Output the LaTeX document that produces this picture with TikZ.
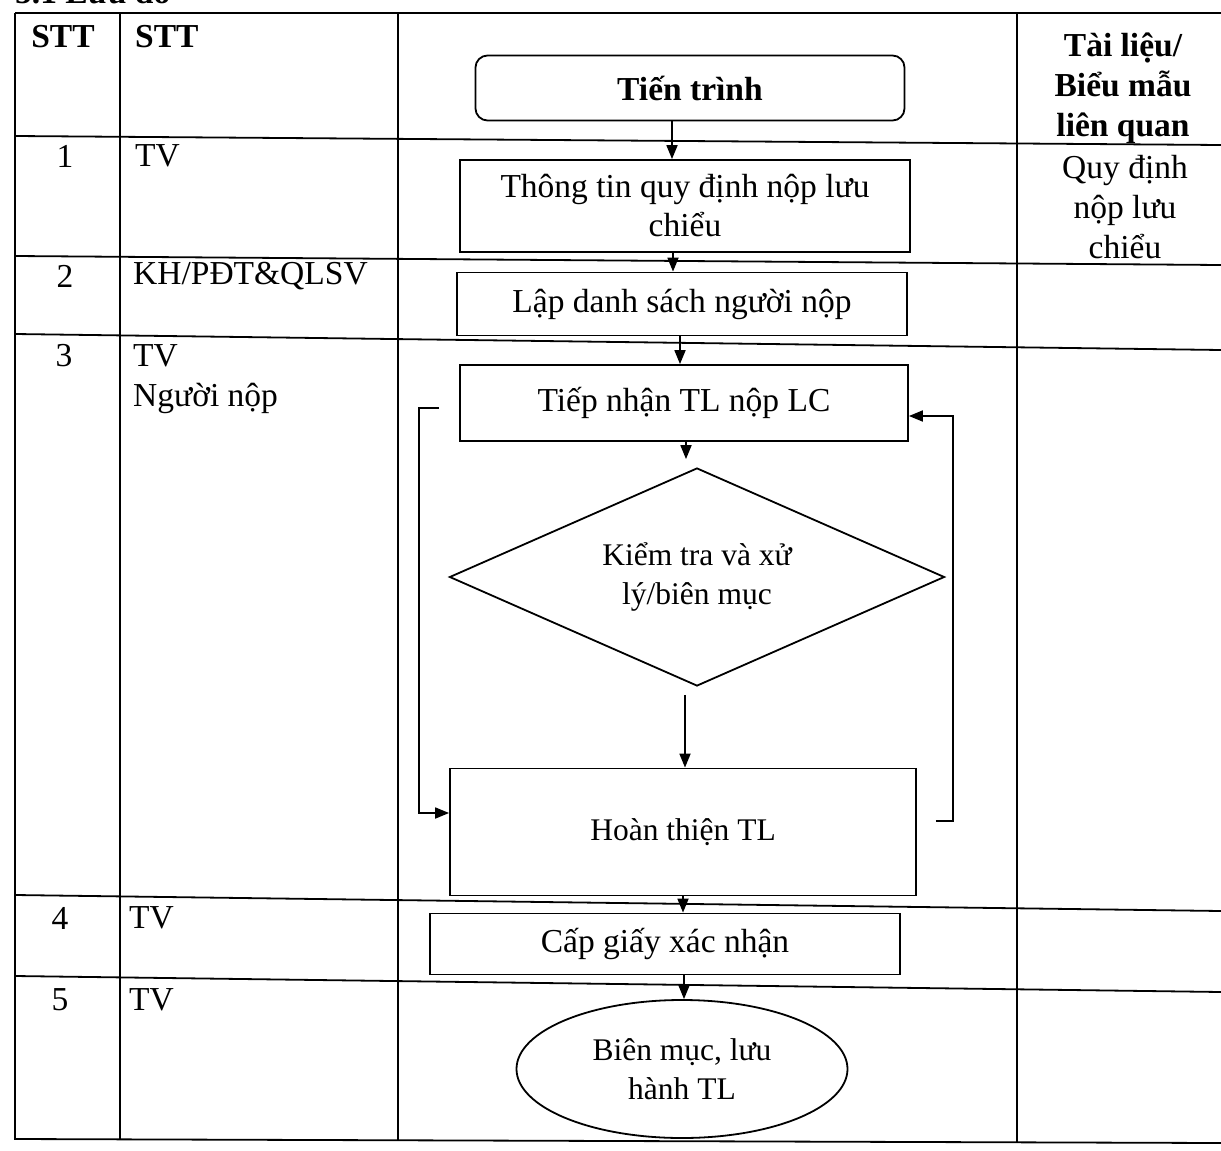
\documentclass[tikz,border=0pt]{standalone}
\usepackage{fontspec}
\setmainfont{Liberation Serif}
\usetikzlibrary{arrows.meta,shapes.geometric}
\begin{document}
\begin{tikzpicture}[x=1pt,y=-1pt,
  grid/.style={line width=1.8pt},
  box/.style={draw,line width=1.8pt,inner sep=0pt,align=center,font=\fontsize{33.5}{39}\selectfont},
  small/.style={font=\fontsize{31.5}{39}\selectfont},
  arr/.style={line width=1.8pt,-{Triangle[length=14pt,width=11pt]}},
  cell/.style={inner sep=0pt,font=\fontsize{33.5}{40}\selectfont},
  hcell/.style={inner sep=0pt,font=\fontsize{33.5}{40}\selectfont\bfseries}
]
\useasboundingbox (0,0) rectangle (1221,1151);
\begin{scope}
\clip (0,0) rectangle (1221,1151);
\node[hcell,anchor=base west] (title) at (15,4) {5.1 Lưu đồ};
\end{scope}
% table grid
\draw[grid] (15,13) -- (1221,13);
\draw[grid] (15,13) -- (15,1140);
\draw[grid] (120,13) -- (120,1140);
\draw[grid] (398,13) -- (398,1140);
\draw[grid] (1017,13) -- (1017,1143);
\draw[grid] (15,136) -- (1221,145);
\draw[grid] (15,256) -- (1221,265);
\draw[grid] (15,334) -- (1221,350);
\draw[grid] (15,895) -- (1221,911);
\draw[grid] (15,976) -- (1221,992);
\draw[grid] (15,1139) -- (1221,1143);
% header cells
\node[hcell] (h1) at (63,37) {STT};
\node[hcell,anchor=west] (h2) at (135,37) {STT};
\node[hcell,align=center] (h4) at (1123,88) {Tài liệu/\\Biểu mẫu\\liên quan};
% column 1
\node[cell] (n1) at (65,156) {1};
\node[cell] (n2) at (65,276) {2};
\node[cell] (n3) at (64,356) {3};
\node[cell] (n4) at (60,918) {4};
\node[cell] (n5) at (60,1000) {5};
% column 2
\node[cell,anchor=west] (u1) at (135,156) {TV};
\node[cell,anchor=west] (u2) at (133,276) {KH/PĐT\&QLSV};
\node[cell,anchor=west] (u3) at (133,356) {TV};
\node[cell,anchor=west] (u3b) at (133,398) {Người nộp};
\node[cell,anchor=west] (u4) at (129,918) {TV};
\node[cell,anchor=west] (u5) at (129,1000) {TV};
% column 4
\node[cell,align=center] (d1) at (1125,207) {Quy định\\nộp lưu\\chiểu};
% flowchart
\node[box,rounded corners=12pt,minimum width=429pt,minimum height=65pt,font=\fontsize{33.5}{40}\selectfont\bfseries] (tt) at (690,88) {Tiến trình};
\node[box,minimum width=450pt,minimum height=92pt] (b1) at (685,206) {Thông tin quy định nộp lưu\\chiểu};
\node[box,minimum width=450pt,minimum height=63pt] (b2) at (682,304) {Lập danh sách người nộp};
\node[box,minimum width=448pt,minimum height=76pt] (b3) at (684,403) {Tiếp nhận TL nộp LC};
\node[box,small,shape=diamond,shape aspect=2.27,minimum width=495pt,minimum height=218pt] (dm) at (697,577) {Kiểm tra và xử\\lý/biên mục};
\node[box,small,minimum width=466pt,minimum height=127pt] (b4) at (683,832) {Hoàn thiện TL};
\node[box,minimum width=470pt,minimum height=61pt] (b5) at (665,944) {Cấp giấy xác nhận};
\node[box,small,ellipse,minimum width=331pt,minimum height=138pt] (el) at (682,1069) {Biên mục, lưu\\hành TL};
% connectors
\draw[arr] (tt.south -| 672,0) -- (b1.north -| 672,0);
\draw[arr] (b1.south -| 673,0) -- (b2.north -| 673,0);
\draw[arr] (b2.south -| 680,0) -- (b3.north -| 680,0);
\draw[arr] (b3.south -| 686,0) -- ([yshift=8pt]dm.north -| 686,0);
\draw[arr] ([yshift=-8pt]dm.south -| 685,0) -- (b4.north -| 685,0);
\draw[arr] (b4.south -| 683,0) -- (b5.north -| 683,0);
\draw[arr] (b5.south -| 684,0) -- (el.north -| 684,0);
\draw[arr] ([shift={(-20pt,-5pt)}]b3.west) -- ++(-20pt,0) |- ([yshift=19pt]b4.west);
\draw[arr] ([shift={(19pt,11pt)}]b4.east) -- ++(17pt,0) |- ([yshift=-13pt]b3.east);
\end{tikzpicture}
\end{document}
